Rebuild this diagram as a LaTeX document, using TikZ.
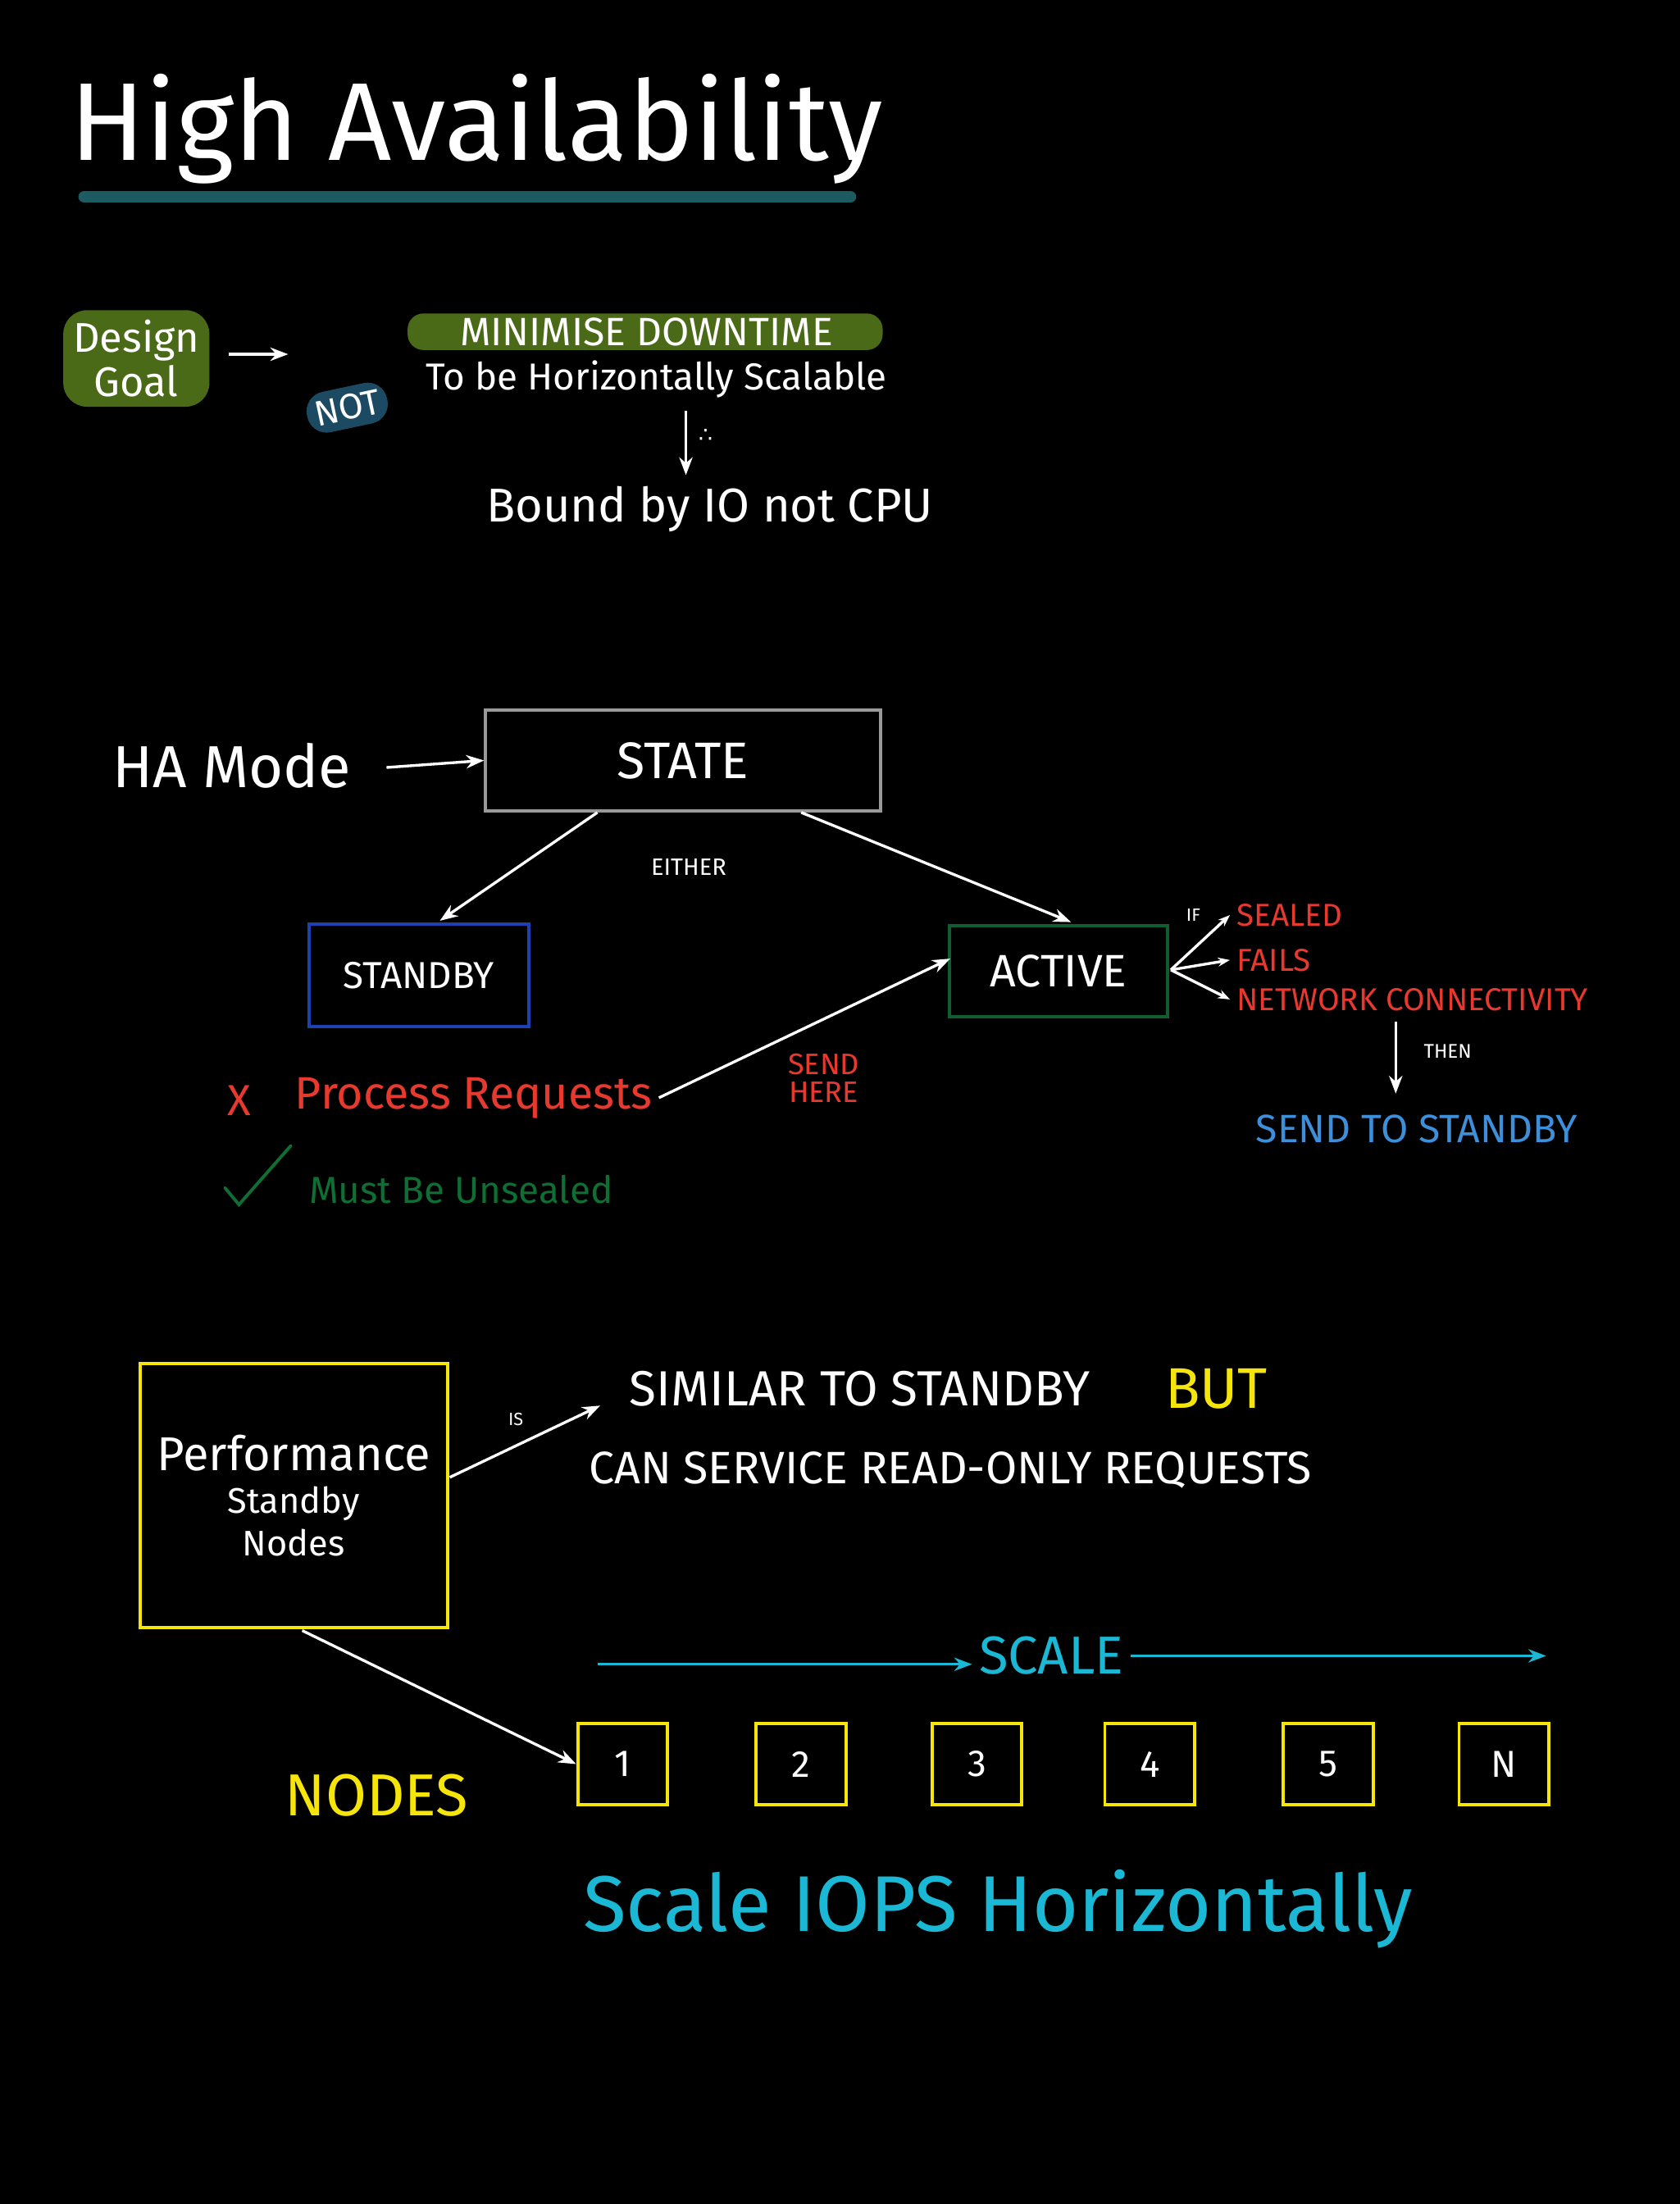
\documentclass[tikz,border=0pt]{standalone}
\usepackage{fontspec}
\setmainfont{Fira Sans}
\newfontfamily\djv{DejaVu Sans}
\usetikzlibrary{arrows.meta}
\definecolor{tealu}{HTML}{1D5B63}
\definecolor{gblob}{HTML}{4A6A17}
\definecolor{bblob}{HTML}{1D4A63}
\definecolor{redt}{HTML}{E8392F}
\definecolor{bluet}{HTML}{3C8FD8}
\definecolor{yel}{HTML}{F5E50A}
\definecolor{cyan2}{HTML}{1AB8D4}
\definecolor{gtext}{HTML}{0F6E33}
\definecolor{sbox}{HTML}{1E40B0}
\definecolor{abox}{HTML}{0F5E2F}
\newcommand{\fs}[1]{\fontsize{#1pt}{\dimexpr #1pt*6/5\relax}\selectfont}
\begin{document}
\begin{tikzpicture}[x=0.025cm,y=-0.025cm,
  txt/.style={text=white,font=\fs{18}},
  arr/.style={draw=white,line width=1.4pt,-{Stealth[length=9pt]}},
  box/.style={draw,line width=1.6pt,minimum width=#1*0.025cm,inner sep=0pt}]
\useasboundingbox (0,0) rectangle (1195,1568);
\fill[black] (0,0) rectangle (1195,1568);
\node[text=white,font=\fs{56},anchor=west] (title) at (45,92) {High Availability};
\draw[tealu,line width=6pt,line cap=round] (60,140) -- (605,140);
\node[fill=gblob,rounded corners=12pt,text=white,font=\fs{21},align=center,inner sep=5pt] (dg) at (97,255) {Design\\[-3pt]Goal};
\draw[arr] (163,252) -- (205,252);
\fill[gblob,rounded corners=8pt] (290,223) rectangle (628,249);
\node[txt,font=\fs{20}] (mini) at (460,236) {MINIMISE DOWNTIME};
\node[fill=bblob,rounded corners=10pt,text=white,font=\fs{18},rotate=12,inner sep=4pt] (not) at (247,290) {NOT};
\node[txt,font=\fs{19},anchor=west] (hor) at (298,270) {To be Horizontally Scalable};
\node[txt,font=\fs{24}] (bound) at (505,362) {Bound by IO not CPU};
\draw[arr] (488,292) -- (488,338);
\node[txt,font=\djv\fs{11}] at (502,310) {∴};
\node[txt,font=\fs{30}] (ha) at (165,545) {HA Mode};
\node[box=281,draw=gray!80,minimum height=72*0.025cm,txt,font=\fs{26}] (state) at (486,541) {STATE};
\draw[arr] (275,546) -- (state.west);
\node[box=156,draw=sbox,minimum height=73*0.025cm,txt,font=\fs{19}] (stby) at (298,694) {STANDBY};
\node[box=155,draw=abox,minimum height=65*0.025cm,txt,font=\fs{23}] (act) at (753,691) {ACTIVE};
\draw[arr] (425,578) -- (313,655);
\draw[arr] (570,578) -- (762,656);
\node[txt,font=\fs{12}] at (490,617) {EITHER};
\node[txt,font=\fs{9}] at (849,651) {IF};
\coordinate (af) at (833,690);
\node[text=redt,font=\fs{16},anchor=west] (seal) at (875,651) {SEALED};
\node[text=redt,font=\fs{16},anchor=west] (fail) at (875,683) {FAILS};
\node[text=redt,font=\fs{16},anchor=west] (net) at (875,711) {NETWORK CONNECTIVITY};
\draw[arr,-{Stealth[length=6pt]}] (af) -- (seal.west);
\draw[arr,-{Stealth[length=6pt]}] (af) -- (fail.west);
\draw[arr,-{Stealth[length=6pt]}] (af) -- (net.west);
\node[txt,font=\fs{10}] at (1030,748) {THEN};
\node[text=bluet,font=\fs{20}] (sts) at (1008,803) {SEND TO STANDBY};
\draw[arr] (993,727) -- (993,778);
\node[text=redt,font=\fs{22}] at (170,783) {X};
\node[text=redt,font=\fs{23},anchor=west] (proc) at (205,781) {Process Requests};
\draw[arr] (proc.east) -- (676,682);
\node[text=redt,font=\fs{15},align=center] at (586,767) {SEND\\[-4pt]HERE};
\draw[gtext,line width=1.6pt,line cap=round] (160,845) -- (170,857) -- (207,815);
\node[text=gtext,font=\fs{19},anchor=west] (must) at (215,846) {Must Be Unsealed};
\node[box=219,draw=yel,minimum height=188*0.025cm,txt,align=center,font=\fs{18}] (perf) at (209,1064) {{\fs{24}Performance}\\Standby\\Nodes};
\node[txt,font=\fs{25},anchor=west] (sim) at (443,988) {SIMILAR TO STANDBY};
\node[text=yel,font=\fs{29},anchor=west] at (824,988) {BUT};
\node[txt,font=\fs{23},anchor=west] (can) at (414,1046) {CAN SERVICE READ-ONLY REQUESTS};
\draw[arr] (320,1051) -- (427,1000);
\node[txt,font=\fs{9}] at (367,1010) {IS};
\node[text=cyan2,font=\fs{27}] (scale) at (748,1178) {SCALE};
\draw[cyan2,line width=1.4pt,-{Stealth[length=9pt]}] (425,1184) -- (scale.west |- 0,1184);
\draw[cyan2,line width=1.4pt,-{Stealth[length=9pt]}] (scale.east |- 0,1178) -- (1100,1178);
\foreach \x/\l/\n in {443/1/n1,570/2/n2,695/3/n3,818/4/n4,945/5/n5,1070/N/n6}
  \node[box=64,draw=yel,minimum height=58*0.025cm,txt,font=\fs{19}] (\n) at (\x,1255) {\l};
\draw[arr] (215,1160) -- (n1.west);
\node[text=yel,font=\fs{30}] at (268,1277) {NODES};
\node[text=cyan2,font=\fs{40}] at (710,1358) {Scale IOPS Horizontally};
\end{tikzpicture}
\end{document}
